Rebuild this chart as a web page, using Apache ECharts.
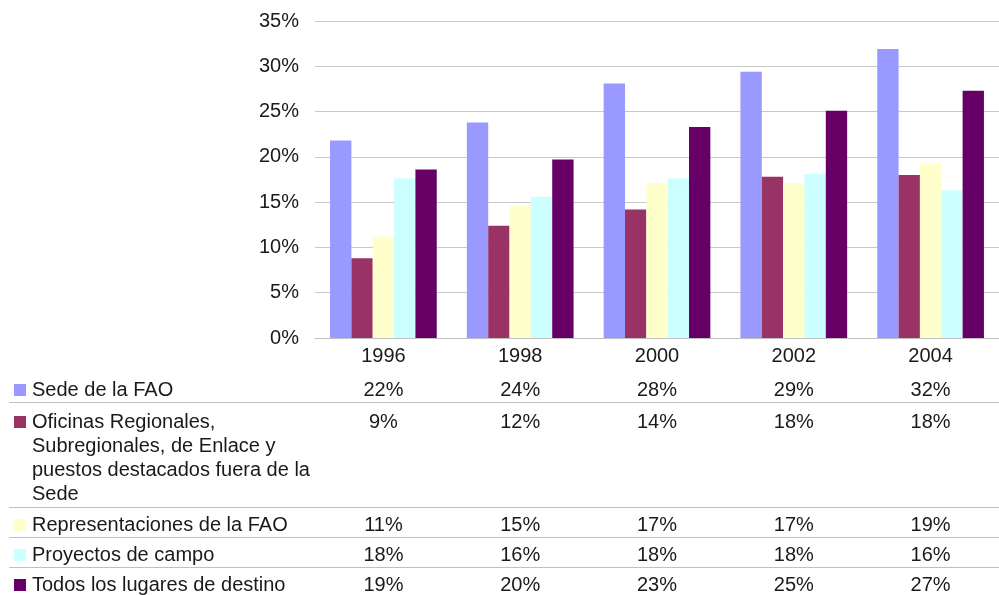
<!DOCTYPE html>
<html>
<head>
<meta charset="utf-8">
<script src="https://cdn.jsdelivr.net/npm/echarts@6/dist/echarts.min.js"></script>
<style>
  html, body { margin: 0; padding: 0; background: #fff; }
  #main { width: 999px; height: 595px; }
</style>
</head>
<body>
<div id="main"></div>
<script>
// datos
var years = ['1996', '1998', '2000', '2002', '2004'];
var seriesNames = [
  'Sede de la FAO',
  'Oficinas Regionales,\nSubregionales, de Enlace y\npuestos destacados fuera de la\nSede',
  'Representaciones de la FAO',
  'Proyectos de campo',
  'Todos los lugares de destino'
];
var sede = [21.8, 23.8, 28.1, 29.4, 31.9];
var oficinas = [8.8, 12.4, 14.2, 17.8, 18.0];
var representaciones = [11.2, 14.6, 17.1, 17.1, 19.3];
var proyectos = [17.6, 15.6, 17.6, 18.1, 16.3];
var todos = [18.6, 19.7, 23.3, 25.1, 27.3];
var yTicks = [0, 5, 10, 15, 20, 25, 30, 35];

var allData = [sede, oficinas, representaciones, proyectos, todos];
var colors = ['#9999FF', '#993366', '#FFFFCC', '#CCFFFF', '#660066'];
var font = '"Liberation Sans", Arial, Helvetica, sans-serif';
var fs = 20;

var myChart = echarts.init(document.getElementById('main'));

var series = allData.map(function (d, i) {
  return {
    name: seriesNames[i],
    type: 'bar',
    data: d,
    barGap: '0%',
    barCategoryGap: '22%',
    itemStyle: { color: colors[i] },
    animation: false
  };
});

var option = {
  animation: false,
  textStyle: { fontFamily: font },
  grid: { left: 315, top: 21, width: 697, height: 317 },
  xAxis: {
    type: 'category',
    data: years,
    axisLine: { lineStyle: { color: '#c0c0c0', width: 1 } },
    axisTick: { show: false },
    axisLabel: { color: '#1a1a1a', fontSize: fs, fontFamily: font, margin: 8 }
  },
  yAxis: {
    type: 'value',
    min: yTicks[0],
    max: yTicks[yTicks.length - 1],
    interval: 5,
    axisLine: { show: false },
    axisTick: { show: false },
    splitLine: { lineStyle: { color: '#c8c8c8', width: 1 } },
    axisLabel: { color: '#1a1a1a', fontSize: fs, fontFamily: font, margin: 16, formatter: '{value}%' }
  },
  series: series
};
myChart.setOption(option);

// tabla de datos debajo del grafico
var rowY = [390, 422, 525, 555, 585];
var lineY = [402, 507, 537, 567];
var lh = 24.3;
var elements = [];

lineY.forEach(function (y) {
  elements.push({
    type: 'line',
    shape: { x1: 9, y1: y + 0.5, x2: 999, y2: y + 0.5 },
    style: { stroke: '#c0c0c0', lineWidth: 1 },
    silent: true
  });
});

allData.forEach(function (d, i) {
  elements.push({
    type: 'rect',
    shape: { x: 14, y: rowY[i] - 6, width: 12, height: 12 },
    style: { fill: colors[i] },
    silent: true
  });
  elements.push({
    type: 'text',
    x: 32,
    y: rowY[i] - lh / 2,
    style: {
      text: seriesNames[i],
      font: fs + 'px ' + font,
      fill: '#1a1a1a',
      verticalAlign: 'top',
      lineHeight: lh
    },
    silent: true
  });
  d.forEach(function (v, j) {
    var px = myChart.convertToPixel({ xAxisIndex: 0 }, years[j]);
    elements.push({
      type: 'text',
      x: px,
      y: rowY[i] - lh / 2,
      style: {
        text: Math.round(v) + '%',
        font: fs + 'px ' + font,
        fill: '#1a1a1a',
        align: 'center',
        verticalAlign: 'top',
        lineHeight: lh
      },
      silent: true
    });
  });
});

myChart.setOption({ graphic: { elements: elements } });
</script>
</body>
</html>
